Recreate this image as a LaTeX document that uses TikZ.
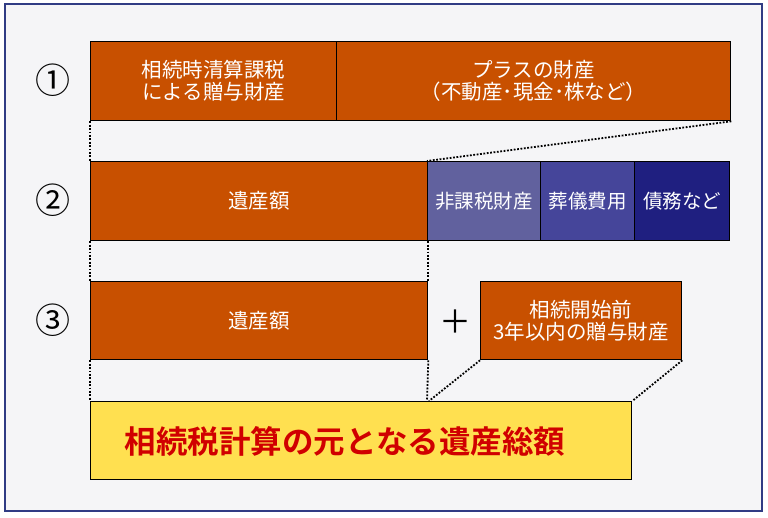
\documentclass[tikz,border=0pt]{standalone}
\usepackage{fontspec}
\setmainfont{Noto Sans CJK JP}
\newfontfamily\cjkbold{Noto Sans CJK JP Bold}
\definecolor{bgc}{HTML}{F5F5F7}
\definecolor{framec}{HTML}{303C84}
\definecolor{orng}{HTML}{C85000}
\definecolor{blueA}{HTML}{61619E}
\definecolor{blueB}{HTML}{45459A}
\definecolor{blueC}{HTML}{1F1F80}
\definecolor{yel}{HTML}{FFE050}
\definecolor{redt}{HTML}{D00000}
\begin{document}
\begin{tikzpicture}[x=1pt,y=-1pt,
  box/.style={draw=black,line width=1.3pt,inner sep=0pt,anchor=north west,text=white,font=\fontsize{20.5}{22}\selectfont,align=center},
  dot/.style={line width=1.8pt,dash pattern=on 1.8pt off 1.6pt},
  num/.style={font=\fontsize{35}{35}\selectfont}]
\useasboundingbox (0,0) rectangle (768,517);
\fill[white] (0,0) rectangle (768,517);
\draw[framec,line width=2pt,fill=bgc] (5,4) rectangle (762,511);
% row 1
\node[box,fill=orng,minimum width=246pt,minimum height=79pt] (a1) at (90,41) {相続時清算課税\\による贈与財産};
\node[box,fill=orng,minimum width=394pt,minimum height=79pt] (a2) at (336,41) {プラスの財産\\（不動産･現金･株など）};
% row 2
\node[box,fill=orng,minimum width=337pt,minimum height=79pt] (b1) at (90,161) {遺産額};
\node[box,fill=blueA,minimum width=113pt,minimum height=79pt,font=\fontsize{19.5}{22}\selectfont] (b2) at (427,161) {非課税財産};
\node[box,fill=blueB,minimum width=94pt,minimum height=79pt,font=\fontsize{19.5}{22}\selectfont] (b3) at (540,161) {葬儀費用};
\node[box,fill=blueC,minimum width=95pt,minimum height=79pt,font=\fontsize{19.5}{22}\selectfont] (b4) at (634,161) {債務など};
% row 3
\node[box,fill=orng,minimum width=337pt,minimum height=78pt] (c1) at (90,281) {遺産額};
\node[box,fill=orng,minimum width=201pt,minimum height=78pt] (c2) at (480,281) {相続開始前\\3年以内の贈与財産};
\node[font=\fontsize{32}{32}\selectfont] (plus) at (455,322) {＋};
% row 4
\node[box,fill=yel,minimum width=541pt,minimum height=78pt] (d1) at (90,401) {};
\node[text=redt,font=\cjkbold\fontsize{31.5}{32}\selectfont] (dt) at (345,441) {相続税計算の元となる遺産総額};
% numbers
\node[num] (n1) at (53,80) {①};
\node[num] (n2) at (53,200) {②};
\node[num] (n3) at (53,320) {③};
% dotted connectors
\draw[dot] (a1.south west) -- (b1.north west);
\draw[dot] (a2.south east) -- (b2.north west);
\draw[dot] (b1.south west) -- (c1.north west);
\draw[dot] (b1.south east) -- (c1.north east);
\draw[dot] (c1.south west) -- (d1.north west);
\draw[dot] (c1.south east) -- ([xshift=337pt]d1.north west);
\draw[dot] (c2.south west) -- ([xshift=339pt]d1.north west);
\draw[dot] (c2.south east) -- (d1.north east);
\end{tikzpicture}
\end{document}
